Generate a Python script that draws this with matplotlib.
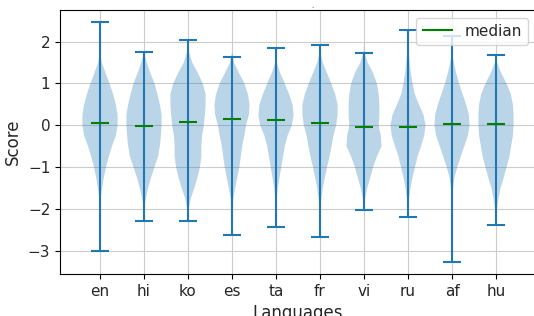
import numpy as np
import matplotlib
matplotlib.use('Agg')
import matplotlib.pyplot as plt

plt.rcParams['font.size'] = 12
plt.rcParams['axes.labelsize'] = 12
plt.rcParams['xtick.labelsize'] = 11
plt.rcParams['ytick.labelsize'] = 11
plt.rcParams['legend.fontsize'] = 11
plt.rcParams['text.color'] = '0.15'
plt.rcParams['axes.labelcolor'] = '0.15'
plt.rcParams['xtick.labelcolor'] = '0.15'
plt.rcParams['ytick.labelcolor'] = '0.15'

# languages and per-language summary values
languages = ['en', 'hi', 'ko', 'es', 'ta', 'fr', 'vi', 'ru', 'af', 'hu']
medians = [0.05, -0.02, 0.08, 0.16, 0.12, 0.05, -0.03, -0.04, 0.02, 0.03]
maxima = [2.47, 1.75, 2.04, 1.63, 1.84, 1.93, 1.74, 2.28, 2.14, 1.67]
minima = [-3.01, -2.28, -2.28, -2.62, -2.44, -2.68, -2.03, -2.20, -3.27, -2.38]

# violin outline: relative half-width at each score level
levels = [2.0, 1.75, 1.5, 1.25, 1.0, 0.75, 0.5, 0.25, 0.0,
          -0.25, -0.5, -0.75, -1.0, -1.25, -1.5, -1.75, -2.0, -2.25]
shape_en = [0, 0.01, 0.1, 0.32, 0.54, 0.74, 0.9, 1.0, 1.0, 0.9, 0.68, 0.5, 0.34, 0.22, 0.12, 0.04, 0.01, 0]
shape_hi = [0, 0, 0.16, 0.36, 0.6, 0.76, 0.9, 1.0, 1.0, 0.96, 0.9, 0.8, 0.6, 0.4, 0.24, 0.1, 0.02, 0]
shape_ko = [0, 0.06, 0.24, 0.56, 0.84, 1.0, 1.0, 0.96, 0.9, 0.8, 0.76, 0.76, 0.68, 0.54, 0.36, 0.16, 0.04, 0]
shape_es = [0, 0, 0.12, 0.4, 0.7, 0.9, 1.0, 0.96, 0.8, 0.7, 0.58, 0.5, 0.42, 0.3, 0.18, 0.08, 0.02, 0]
shape_ta = [0, 0, 0.04, 0.24, 0.5, 0.74, 0.94, 1.0, 0.9, 0.66, 0.5, 0.4, 0.3, 0.2, 0.1, 0.04, 0, 0]
shape_fr = [0, 0.02, 0.16, 0.4, 0.64, 0.86, 1.0, 1.0, 0.92, 0.76, 0.66, 0.54, 0.4, 0.28, 0.16, 0.08, 0.02, 0]
shape_vi = [0, 0.02, 0.2, 0.5, 0.7, 0.8, 0.84, 0.84, 0.8, 0.92, 0.96, 0.7, 0.5, 0.34, 0.18, 0.06, 0, 0]
shape_ru = [0.02, 0.05, 0.1, 0.16, 0.26, 0.38, 0.62, 0.88, 1.0, 0.92, 0.74, 0.54, 0.4, 0.26, 0.14, 0.06, 0.02, 0]
shape_af = [0, 0, 0.1, 0.24, 0.4, 0.6, 0.8, 0.96, 1.0, 0.9, 0.7, 0.5, 0.3, 0.14, 0.06, 0.02, 0, 0]
shape_hu = [0, 0, 0.06, 0.3, 0.6, 0.84, 0.96, 1.0, 1.0, 0.96, 0.86, 0.76, 0.6, 0.44, 0.26, 0.14, 0.06, 0.01]
shapes = [shape_en, shape_hi, shape_ko, shape_es, shape_ta,
          shape_fr, shape_vi, shape_ru, shape_af, shape_hu]

# build the stats matplotlib's violin() expects
vpstats = []
for i in range(len(languages)):
    vpstats.append({
        'coords': np.array(levels),
        'vals': np.array(shapes[i]),
        'mean': medians[i],
        'median': medians[i],
        'min': minima[i],
        'max': maxima[i],
    })

positions = np.arange(1, len(languages) + 1)

fig = plt.figure(figsize=(5.34, 3.16), dpi=100)
ax = fig.add_axes([60 / 534, 1 - 274 / 316, 476 / 534, 264 / 316])

parts = ax.violin(vpstats, positions=positions, widths=0.8,
                  showmedians=True, showextrema=True)
parts['cmedians'].set_color('green')

ax.set_xticks(positions)
ax.set_xticklabels(languages)
ax.set_xlim(1 - 40 / 44, 1 - 40 / 44 + 476 / 44)
ax.grid(True, color='#cccccc')
ax.set_axisbelow(True)
ax.set_xlabel('Languages')
ax.set_ylabel('Score')
ax.legend([parts['cmedians']], ['median'], loc='upper right')

# tiny clipped title mark at the top
fig.text(312 / 534, 1 - 6 / 316, '.', fontsize=5, ha='center', va='center')

fig.savefig('out.png', dpi=100)
